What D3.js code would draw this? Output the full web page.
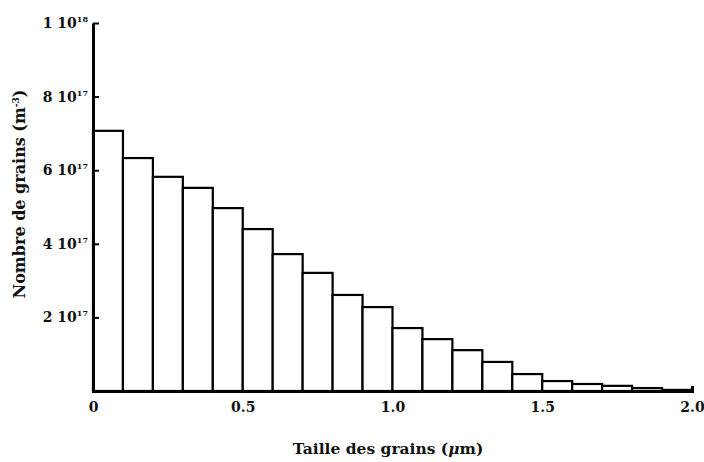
<!DOCTYPE html>
<html>
<head>
<meta charset="utf-8">
<script src="https://cdn.jsdelivr.net/npm/d3@7"></script>
<style>
  html, body { margin: 0; padding: 0; background: #fff; }
  svg text { font-family: "DejaVu Serif", "Liberation Serif", serif; font-weight: bold; fill: #111; }
</style>
</head>
<body>
<svg id="chart" width="704" height="462"></svg>
<script>
// Grain-size histogram: 20 classes of 0.1 µm from 0 to 2.0 µm
const binStarts = [0, 0.1, 0.2, 0.3, 0.4, 0.5, 0.6, 0.7, 0.8, 0.9,
                   1.0, 1.1, 1.2, 1.3, 1.4, 1.5, 1.6, 1.7, 1.8, 1.9];
const binWidth = 0.1;
// Number of grains per m^3 in each class
const counts = [7.07e17, 6.33e17, 5.82e17, 5.52e17, 4.97e17, 4.40e17, 3.72e17, 3.21e17, 2.61e17, 2.28e17,
                1.71e17, 1.41e17, 1.11e17, 0.79e17, 0.46e17, 0.27e17, 0.19e17, 0.14e17, 0.08e17, 0.03e17];

const xTicks = [0, 0.5, 1.0, 1.5, 2.0];
const xTickLabels = ["0", "0.5", "1.0", "1.5", "2.0"];
const yTicks = [2e17, 4e17, 6e17, 8e17, 1e18];
const yTickMantissa = ["2", "4", "6", "8", "1"];
const yTickExponent = ["17", "17", "17", "17", "18"];

const xTitle = "Taille des grains (";
const yTitle = "Nombre de grains (m";

const FONT = "DejaVu Serif";
const svg = d3.select("#chart");
const margin = { left: 93, right: 12, top: 23, bottom: 71 };
const W = 704, H = 462;

const x = d3.scaleLinear().domain([0, 2.0]).range([margin.left, W - margin.right]);
const y = d3.scaleLinear().domain([0, 1e18]).range([H - margin.bottom, margin.top]);

// bars
svg.append("g")
  .selectAll("rect")
  .data(binStarts)
  .join("rect")
  .attr("x", d => x(d))
  .attr("width", d => x(d + binWidth) - x(d))
  .attr("y", (d, i) => y(counts[i]))
  .attr("height", (d, i) => y(0) - y(counts[i]))
  .attr("fill", "#fff")
  .attr("stroke", "#000")
  .attr("stroke-width", 2.2);

// x axis
const xAxis = svg.append("g")
  .attr("transform", `translate(0,${y(0)})`)
  .call(d3.axisBottom(x)
    .tickValues(xTicks)
    .tickFormat((d, i) => xTickLabels[i])
    .tickSizeInner(0)
    .tickSizeOuter(-5)
    .tickPadding(11));
xAxis.select(".domain").attr("stroke", "#000").attr("stroke-width", 3);
xAxis.selectAll("text").attr("font-size", 14).attr("font-family", FONT).attr("font-weight", "bold").attr("fill", "#111");

// y axis
const yAxis = svg.append("g")
  .attr("transform", `translate(${x(0)},0)`)
  .call(d3.axisLeft(y)
    .tickValues(yTicks)
    .tickSizeInner(-6)
    .tickSizeOuter(0)
    .tickPadding(4)
    .tickFormat(""));
yAxis.select(".domain").attr("stroke", "#000").attr("stroke-width", 3);
yAxis.selectAll(".tick line").attr("stroke", "#000").attr("stroke-width", 2);

yAxis.selectAll(".tick text").each(function (d, i) {
  const t = d3.select(this)
    .attr("x", -5)
    .attr("dy", "0.32em")
    .attr("font-size", 14)
    .attr("font-family", FONT)
    .attr("font-weight", "bold")
    .attr("fill", "#111");
  t.append("tspan").text(yTickMantissa[i] + " 10");
  t.append("tspan").attr("dy", -6).attr("font-size", 8).text(yTickExponent[i]);
});

// axis titles
const xt = svg.append("text")
  .attr("x", 388)
  .attr("y", 454)
  .attr("text-anchor", "middle")
  .attr("font-size", 15.5);
xt.append("tspan").text(xTitle);
xt.append("tspan").attr("font-style", "italic").text("\u03bc");
xt.append("tspan").text("m)");

const yt = svg.append("text")
  .attr("transform", `translate(25,194) rotate(-90)`)
  .attr("text-anchor", "middle")
  .attr("font-size", 16);
yt.append("tspan").text(yTitle);
yt.append("tspan").attr("dy", -6).attr("font-size", 9).text("-3");
yt.append("tspan").attr("dy", 6).text(")");
</script>
</body>
</html>
